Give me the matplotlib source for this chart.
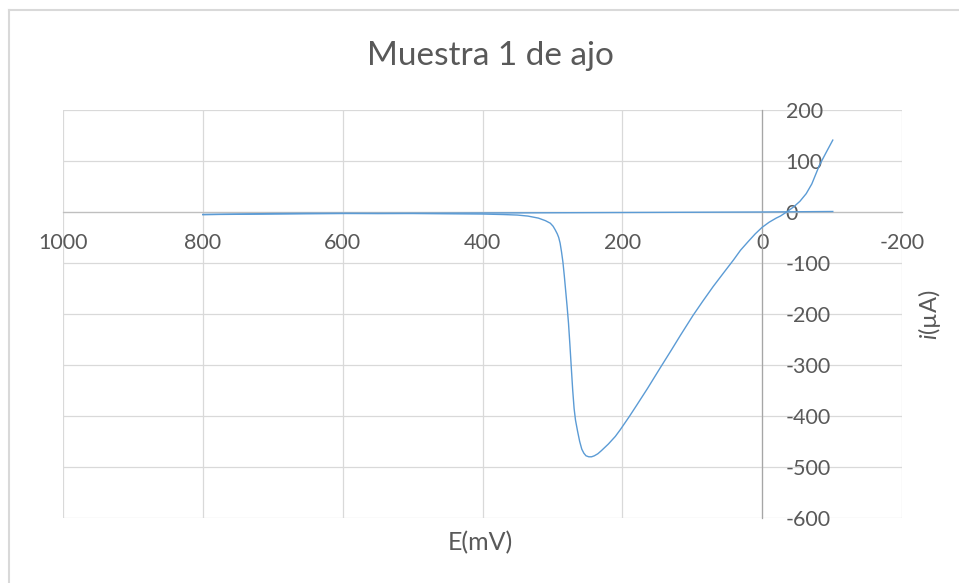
import matplotlib
matplotlib.use('Agg')
import matplotlib.pyplot as plt
from matplotlib.lines import Line2D

plt.rcParams['font.family'] = ['Lato', 'DejaVu Sans']
plt.rcParams['mathtext.fontset'] = 'custom'
plt.rcParams['mathtext.rm'] = 'Lato'
plt.rcParams['mathtext.it'] = 'Lato:italic'
plt.rcParams['axes.unicode_minus'] = False

# forward sweep (mV, uA)
E_fwd = [800, 750, 700, 650, 600, 550, 500, 450, 400, 370, 350, 335, 320, 310,
         303, 299, 296, 293, 291, 289, 287, 285, 283, 281, 279, 277, 275, 273,
         271, 269, 267, 264, 261, 258, 255, 252, 248, 244, 240, 235, 230, 220,
         210, 203, 190, 180, 164, 146, 130, 117, 99, 85, 70, 55, 41, 31, 20,
         10, 0, -10, -20, -26, -35, -45, -54, -63, -71, -82, -92, -101]
i_fwd = [-5, -4, -3, -2.5, -2.5, -3, -3, -3.5, -4, -5, -6, -8, -12, -17,
         -22, -28, -35, -43, -50, -61, -78, -98, -125, -155, -185, -218, -260, -305,
         -349, -385, -408, -430, -450, -465, -473, -478, -480, -480, -478, -474, -468, -455,
         -440, -427, -401, -380, -346, -306, -271, -242, -203, -175, -146, -119, -94, -75, -58,
         -43, -30, -20, -12, -8, 0, 10, 21, 36, 55, 92, 118, 141]

# reverse sweep
E_rev = [-101, -50, 0, 100, 200, 300, 400, 500, 600, 700, 800]
i_rev = [1, 0.5, 0, -0.5, -1, -1.5, -2, -2.5, -3, -4, -5]

x_ticks = [1000, 800, 600, 400, 200, 0, -200]
y_ticks = [200, 100, 0, -100, -200, -300, -400, -500, -600]

grey = '#595959'
grid_c = '#d9d9d9'
blue = '#5b9bd5'

fig = plt.figure(figsize=(9.59, 5.83), dpi=100)
ax = fig.add_axes([63 / 959, 1 - 518 / 583, 839 / 959, 408 / 583])

ax.plot(E_fwd, i_fwd, color=blue, lw=1.0, zorder=3)
ax.plot(E_rev, i_rev, color=blue, lw=1.0, zorder=3)

ax.set_xlim(1000, -200)
ax.set_ylim(-600, 200)
ax.set_xticks(x_ticks)
ax.set_yticks(y_ticks)
ax.grid(True, color=grid_c, lw=0.9)
ax.set_axisbelow(True)

for s in ['top', 'left']:
    ax.spines[s].set_visible(False)
ax.spines['bottom'].set_position(('data', 0))
ax.spines['right'].set_position(('data', 0))
ax.spines['bottom'].set_color('#bfbfbf')
ax.spines['right'].set_color('#a6a6a6')
ax.spines['bottom'].set_linewidth(0.9)
ax.spines['right'].set_linewidth(0.9)
ax.yaxis.set_ticks_position('right')
ax.tick_params(axis='x', length=0, pad=15, labelsize=15.5, labelcolor=grey)
ax.tick_params(axis='y', length=0, pad=17, labelsize=15.5, labelcolor=grey)
for lab in ax.get_yticklabels():
    lab.set_horizontalalignment('left')

ax.set_xlabel('E(mV)', fontsize=18, color=grey)
ax.xaxis.label.set_va('center')
ax.xaxis.set_label_coords(0.498, -0.061)
ax.yaxis.set_label_position('right')
ax.set_ylabel(r'$i$(µA)', fontsize=17, color=grey, rotation=90)
ax.yaxis.label.set_va('center')
ax.yaxis.set_label_coords(1.033, 0.498)

fig.text(490 / 959, 1 - 56 / 583, 'Muestra 1 de ajo', ha='center', va='center',
         fontsize=24, color=grey)

# chart-area border
fig.add_artist(Line2D([8.5 / 959, 1.0], [1 - 9.5 / 583] * 2, color=grid_c, lw=1.5,
                      transform=fig.transFigure))
fig.add_artist(Line2D([8.5 / 959] * 2, [0, 1 - 9.5 / 583], color=grid_c, lw=1.5,
                      transform=fig.transFigure))

fig.savefig('out.png', dpi=100)
